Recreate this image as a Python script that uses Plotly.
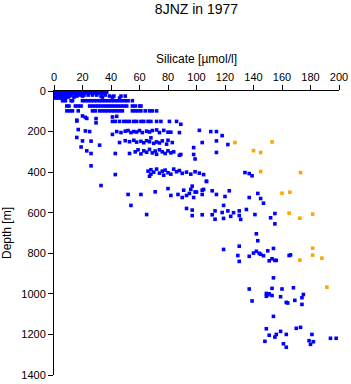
import plotly.graph_objects as go

# ---- data: (depth [m], silicate [umol/l]) ----
surface_depth = [0]*19 + [5]*11 + [10]*19 + [20]*14 + [25]*12 + [30]*9 + [35]*5
surface_si = ([0.5,2,3.5,5,7,9,11,13,15,17,19,21,23,25,27,29,31,33,35]
              + [1,3,6,10,14,18,22,26,30,34,37]
              + [0.5,2,4,6,8,10,12,14,16,18,20,22,24,26,28,30,32,34,36]
              + [1,2,3,5,7,9,12,15,18,21,24,27,30,36]
              + [1,2,4,6,11,16,20,33,39,42,47,50]
              + [1,2,3,5,7,10,14,34,41]
              + [1,3,5,8,46])

upper_depth = ([48]*22 + [74]*23 + [98]*23
               + [123,130,135,144,136,157,128,125]
               + [150]*16 + [164,148])
upper_si = ([6,8,12,13,20,22,24,26,28,30,32,34,36,38,40,42,44,46,48,50,52,55]
            + [9,10.5,15,17,19,25,27,29,31,33,35,37,39,41,43,45,47,49,51,55,57,60,61]
            + [9,11,13,17,27,29,32,34,36,38,40,42,44,46,48,55,57,59,61,64,67,69,72]
            + [20,22,23,16,29.5,29.5,41,44]
            + [41,43,46,49,51,53,56,58,61,63,66,68,72,75,81,86] + [89,16])

mid_depth = [190,197,200,214,200,205,198,195,205,200,202,195,205,198,202,195,192,205,194,203,203,205,194,200,200,220,
             229,246,247,254,245,250,243,252,248,255,245,250,231,258,251,256,246,262,243,254,279,254,246,264,
             276,295,308,267,308,308,300,290,310,295,302,288,305,296,312,290,300,308,295,305,300,313,317,313,335,303]
mid_si = [17,22,25,41,44,47,50,52,54,56,58,60,62,65,67,69,72,74,77,80,82,88,102,110,114,118,
          16,20,26,46,50,53,56,58,61,63,65,67,68,70,72,74,76,79,80,83,98,104,114,122,
          19,23,26,32,43,53,57,59,61,63,65,67,69,71,72,74,76,78,80,82,84,89,88,98,99,114]

deep1_depth = [369,412,395,410,388,420,400,385,405,395,415,390,403,410,385,398,392,406,400,410,398,405,412,446,402,407,418,
               466,510,510,497,481,515,510,525,489,515,505,485,469,525,498,498,489,510,485,445,492,510,520,492,525,505,530,553]
deep1_si = [26,43,66,68,68,67,70,72,74,76,77,78,80,82,84,86,88,90,93,96,99,102,105,107,134,137,139,
            33,52,61,71,80,82,87,90,91,93,95,96,97,98,99,100,104,104,105,107,111,114,120,123,137,143,145,147]

deep2_depth = [564,609,579,587,614,610,610,591,632,599,564,628,591,618,600,591,614,633,584,609,625,604,655,
               704,738,781,765,811,840,815,799,790,800,805,812,788,837,827,776,835,835,811,808]
deep2_si = [54,65,93,97,97,104,111,113,113,118,119,119,122,124,126,130,130,131,135,141,152,155,155,
            142,143,119,130,129,130,137,140,142,144,145,147,150,151,153,154,155,156,165,166]

deep3_depth = [921,976,973,976,970,1003,1019,1052,998,1005,1000,1008,1012,1014,1035,1042,1045,1032,
               1111,1172,1185,1204,1200,1213,1200,1170,1165,1234,1246,1263,1200,1231,1236,1249,1219,1219]
deep3_si = [154,137,153,160,168,175,174,174,149,150,151,153,149,159,139,163,164,169,
            154,149,159,151,156,155,163,170,173,148,161,163,181,179,182,180,194,198]

orange_depth = [254,251,294,303,397,402,504,499,602,627,607,775,834,809,824,967]
orange_si = [127,153,140,145,145,173,160,165.5,165,172.5,181.5,181.5,172.5,181.5,188,191.5]

x_ticks = [0,20,40,60,80,100,120,140,160,180,200]
y_ticks = [0,200,400,600,800,1000,1200,1400]

blue_depth = surface_depth + upper_depth + mid_depth + deep1_depth + deep2_depth + deep3_depth
blue_si = surface_si + upper_si + mid_si + deep1_si + deep2_si + deep3_si

FONT = "Liberation Sans, Arial, sans-serif"

fig = go.Figure()
fig.add_trace(go.Scatter(x=blue_si, y=blue_depth, mode="markers",
                         marker=dict(symbol="square", size=3.6, color="#0000FF", line=dict(width=0)),
                         showlegend=False, hoverinfo="x+y"))
fig.add_trace(go.Scatter(x=orange_si, y=orange_depth, mode="markers",
                         marker=dict(symbol="square", size=3.6, color="#FFA500", line=dict(width=0)),
                         showlegend=False, hoverinfo="x+y"))

fig.update_layout(
    width=351, height=384,
    margin=dict(l=54, r=12, t=91, b=9, pad=0, autoexpand=False),
    paper_bgcolor="white", plot_bgcolor="white",
    font=dict(family=FONT, color="black", size=11),
    title=dict(text="8JNZ in 1977", x=0.5, xref="paper", xanchor="center",
               y=1 - 9/384, yref="container", yanchor="middle",
               font=dict(size=14, family=FONT, color="black"), automargin=False),
    xaxis=dict(side="top", range=[0, 200], tickvals=x_ticks, ticks="outside", ticklen=5,
               tickwidth=1, tickcolor="black", showline=True, linecolor="black", linewidth=1,
               showgrid=False, zeroline=False, tickfont=dict(size=11), automargin=False,
               title=dict(text="Silicate [µmol/l]", font=dict(size=12), standoff=4)),
    yaxis=dict(range=[1400, 0], tickvals=y_ticks, ticks="outside", ticklen=5,
               tickwidth=1, tickcolor="black", showline=True, linecolor="black", linewidth=1,
               showgrid=False, zeroline=False, tickfont=dict(size=11), automargin=False,
               title=dict(text="Depth [m]", font=dict(size=12), standoff=8)),
)

fig.write_html("out.html")
